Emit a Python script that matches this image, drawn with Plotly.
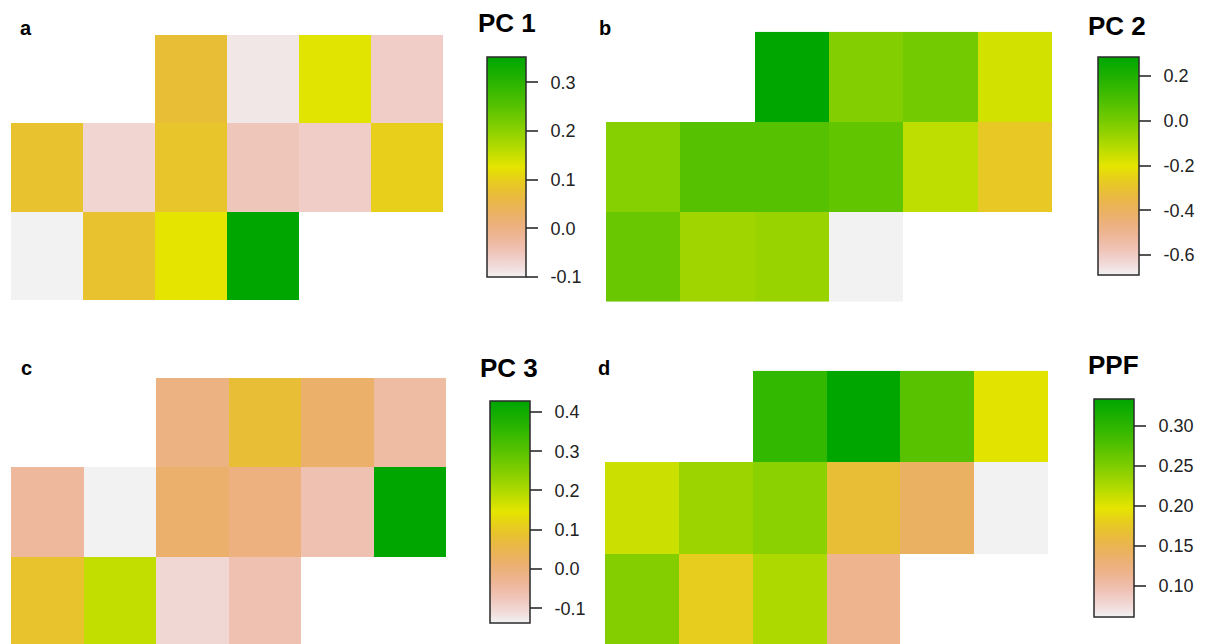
import colorsys
import plotly.graph_objects as go

W, H = 1208, 644

# ---------------- data (rows top -> bottom, 6 columns; None = no cell) -------------
pc1 = [[None, None, 0.072, -0.090, 0.130, -0.060],
       [0.080, -0.070, 0.085, -0.050, -0.060, 0.100],
       [-0.100, 0.080, 0.125, 0.352, None, None]]
pc2 = [[None, None, 0.284, -0.025, 0.006, -0.171],
       [-0.030, 0.070, 0.070, 0.045, -0.135, -0.280],
       [0.030, -0.080, -0.067, -0.691, None, None]]
pc3 = [[None, None, -0.011, 0.077, 0.016, -0.049],
       [-0.042, -0.138, 0.015, -0.007, -0.065, 0.427],
       [0.088, 0.180, -0.104, -0.065, None, None]]
ppf = [[None, None, 0.296, 0.334, 0.272, 0.199],
       [0.210, 0.234, 0.243, 0.165, 0.140, 0.061],
       [0.247, 0.180, 0.225, 0.116, None, None]]

titles = ["PC 1", "PC 2", "PC 3", "PPF"]
panel_letters = ["a", "b", "c", "d"]

ticks_pc1 = [0.3, 0.2, 0.1, 0.0, -0.1]
ticks_pc2 = [0.2, 0.0, -0.2, -0.4, -0.6]
ticks_pc3 = [0.4, 0.3, 0.2, 0.1, 0.0, -0.1]
ticks_ppf = [0.30, 0.25, 0.20, 0.15, 0.10]
ticktext_pc1 = ["0.3", "0.2", "0.1", "0.0", "-0.1"]
ticktext_pc2 = ["0.2", "0.0", "-0.2", "-0.4", "-0.6"]
ticktext_pc3 = ["0.4", "0.3", "0.2", "0.1", "0.0", "-0.1"]
ticktext_ppf = ["0.30", "0.25", "0.20", "0.15", "0.10"]

# ---------------- R terrain.colors (reversed: low = light grey, high = green) ------
def terrain_scale(n=61):
    stops = []
    for i in range(n):
        p = i / (n - 1)
        if p <= 0.5:
            t = p / 0.5
            h, s, v = (2 / 12) * t, t, 0.95 - 0.05 * t
        else:
            t = (p - 0.5) / 0.5
            h, s, v = 2 / 12 + (2 / 12) * t, 1.0, 0.9 - 0.25 * t
        r, g, b = colorsys.hsv_to_rgb(h, s, v)
        stops.append([p, "rgb(%d,%d,%d)" % (round(r * 255), round(g * 255), round(b * 255))])
    return stops

CS = terrain_scale()
PAD = "\u00a0\u2009"  # small gap between tick mark and label

# ---------------- layout geometry (pixels) ----------------
panels = [
    dict(z=pc1, tv=ticks_pc1, tt=ticktext_pc1, hm=(11, 443, 35, 300), cb=(487, 526, 57, 277),
         title=(476, 23), letter=(18, 28.6)),
    dict(z=pc2, tv=ticks_pc2, tt=ticktext_pc2, hm=(606, 1052, 31.7, 301.7), cb=(1098, 1139, 57.3, 275.3),
         title=(1086, 26), letter=(597, 28.6)),
    dict(z=pc3, tv=ticks_pc3, tt=ticktext_pc3, hm=(11, 446, 378, 645.5), cb=(490, 530, 401.3, 623),
         title=(478, 368), letter=(18.5, 369)),
    dict(z=ppf, tv=ticks_ppf, tt=ticktext_ppf, hm=(605, 1048, 370.7, 645.5), cb=(1094, 1134, 398.7, 616.3),
         title=(1085.5, 364.5), letter=(596, 368.6)),
]

fig = go.Figure()
annotations = []
FONT = "Liberation Sans, Arial, sans-serif"

for i, p in enumerate(panels):
    k = "" if i == 0 else str(i + 1)
    x0, x1, y0, y1 = p["hm"]
    rows_px = (y1 - y0) / 3
    top_frac = 1 - y0 / H
    fig.add_trace(go.Heatmap(
        z=p["z"], x=list(range(6)), y=list(range(3)),
        colorscale=CS, xaxis="x" + k, yaxis="y" + k,
        hoverongaps=False, xgap=0, ygap=0,
        colorbar=dict(
            xref="paper", yref="paper",
            x=p["cb"][0] / W, xanchor="left",
            y=1 - p["cb"][2] / H, yanchor="top",
            lenmode="pixels", len=p["cb"][3] - p["cb"][2],
            thicknessmode="pixels", thickness=p["cb"][1] - p["cb"][0],
            xpad=0, ypad=0,
            outlinewidth=1.5, outlinecolor="#2a2a2a",
            ticks="outside", ticklen=12, tickwidth=1.5, tickcolor="#555555",
            tickvals=p["tv"], ticktext=[PAD + t for t in p["tt"]],
            tickfont=dict(family=FONT, size=18, color="#222222"),
        ),
    ))
    dom_bottom_px = min(y1, H)
    visible_rows = (dom_bottom_px - y0) / rows_px
    fig.update_layout(**{
        "xaxis" + k: dict(domain=[x0 / W, x1 / W], range=[-0.5, 5.5], visible=False, anchor="y" + k),
        "yaxis" + k: dict(domain=[1 - dom_bottom_px / H, top_frac],
                          range=[-0.5 + visible_rows, -0.5], visible=False, anchor="x" + k),
    })
    annotations.append(dict(text="<b>%s</b>" % titles[i], xref="paper", yref="paper",
                            x=p["title"][0] / W, y=1 - p["title"][1] / H,
                            xanchor="left", yanchor="middle", showarrow=False,
                            font=dict(family=FONT, size=26, color="#000000")))
    annotations.append(dict(text="<b>%s</b>" % panel_letters[i], xref="paper", yref="paper",
                            x=p["letter"][0] / W, y=1 - (p["letter"][1] - 1) / H,
                            xanchor="left", yanchor="middle", showarrow=False,
                            font=dict(family=FONT, size=20, color="#000000")))

fig.update_layout(
    width=W, height=H,
    margin=dict(l=0, r=0, t=0, b=0, autoexpand=False),
    paper_bgcolor="white", plot_bgcolor="white",
    annotations=annotations,
    showlegend=False,
)

fig.write_html("out.html")
